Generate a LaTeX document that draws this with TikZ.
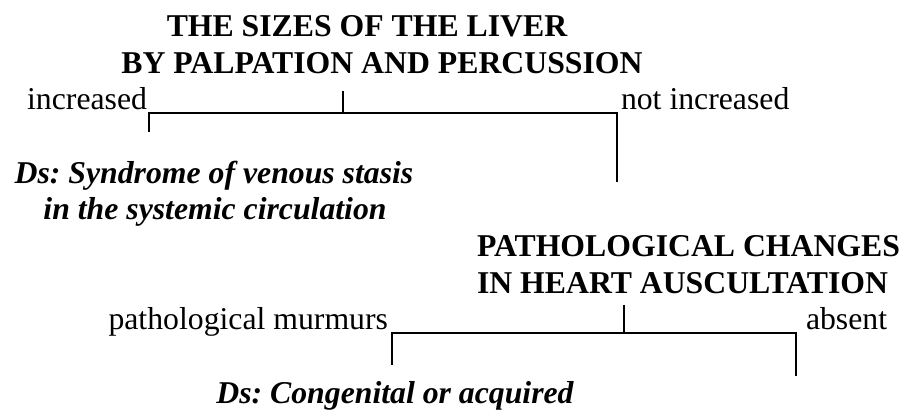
\documentclass[tikz,border=0pt]{standalone}
\usepackage{fontspec}
\setmainfont{Liberation Serif}
\frenchspacing

\begin{document}
\begin{tikzpicture}[x=0.378pt, y=-0.378pt, line width=0.75pt,
                every node/.style={inner sep=0pt, outer sep=0pt, font=\fontsize{12}{13.8}\selectfont},
                heading/.style={font=\fontsize{12}{13.8}\selectfont\bfseries},
                verdict/.style={font=\fontsize{12}{13.8}\selectfont\bfseries\itshape}]
                \useasboundingbox (0, 0) rectangle (908, 410);
                % Headings and labels:
                \node[heading, anchor=base](liverA) at (367, 37){THE SIZES OF THE LIVER};
                \node[heading, anchor=base](liverB) at (382, 74){BY PALPATION AND PERCUSSION};
                \node[anchor=base east](inc) at (147, 110){increased};
                \node[anchor=base west](notinc) at (621, 110){not increased};
                \node[verdict, anchor=base](stasisA) at (214, 184){Ds: Syndrome of venous stasis};
                \node[verdict, anchor=base](stasisB) at (215, 220){in the systemic circulation};
                \node[heading, anchor=base west](heartA) at (477, 257){PATHOLOGICAL CHANGES};
                \node[heading, anchor=base west](heartB) at (477, 294){IN HEART AUSCULTATION};
                \node[anchor=base east](murm) at (388, 330){pathological murmurs};
                \node[anchor=base west](absent) at (806, 330){absent};
                \node[verdict, anchor=base](congen) at (395, 404){Ds: Congenital or acquired};
                % Brackets:
                \coordinate (liverTop) at (343, 91);
                \coordinate (liverL) at (149, 113);
                \coordinate (liverR) at (617, 113);
                \coordinate (liverEndL) at (149, 132);
                \coordinate (liverEndR) at (617, 182);
                \draw (liverEndL) -- (liverL) -- (liverR) -- (liverEndR);
                \draw (liverTop) -- (liverTop |- liverL);
                \coordinate (heartTop) at (624, 305);
                \coordinate (heartL) at (392, 333);
                \coordinate (heartR) at (796, 333);
                \coordinate (heartEndL) at (392, 365);
                \coordinate (heartEndR) at (796, 376);
                \draw (heartEndL) -- (heartL) -- (heartR) -- (heartEndR);
                \draw (heartTop) -- (heartTop |- heartL);
            \end{tikzpicture}
\end{document}
